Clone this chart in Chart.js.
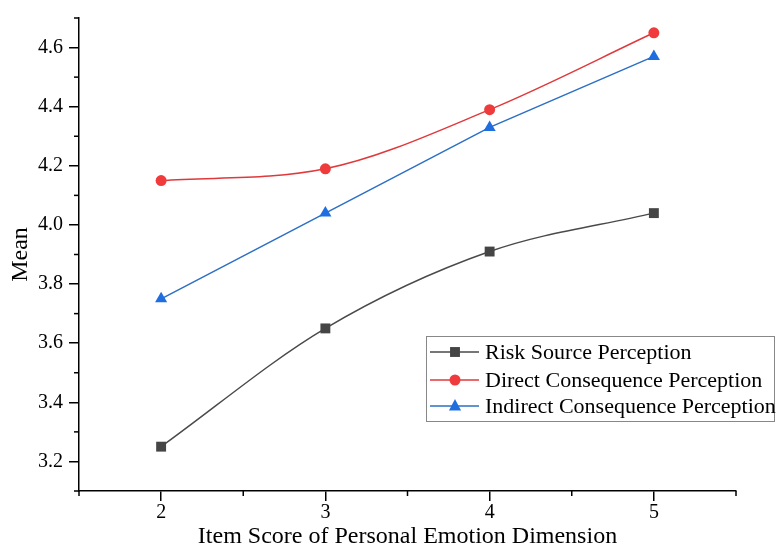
<!DOCTYPE html>
<html>
<head>
<meta charset="utf-8">
<script src="https://cdn.jsdelivr.net/npm/chart.js@4.4.0/dist/chart.umd.min.js"></script>
<style>
  html, body { margin: 0; padding: 0; background: #fff; }
  #wrap { width: 776px; height: 547px; }
</style>
</head>
<body>
<div id="wrap"><canvas id="mycanvas"></canvas></div>
<script>
const scores = [2, 3, 4, 5];
const riskSource = [3.25, 3.65, 3.91, 4.04];
const directConsequence = [4.15, 4.19, 4.39, 4.65];
const indirectConsequence = [3.75, 4.04, 4.33, 4.57];
const seriesNames = ['Risk Source Perception', 'Direct Consequence Perception', 'Indirect Consequence Perception'];

const serif = '"Liberation Serif", "Times New Roman", serif';

function toPoints(vals) {
  return scores.map(function (s, i) { return { x: s, y: vals[i] }; });
}

function isMajor(scaleId, v) {
  if (scaleId === 'x') return Number.isInteger(Math.round(v * 10) / 10);
  return Math.round(v * 10) % 2 === 0;
}

// short minor ticks (chart.js draws all ticks one length)
const minorTicks = {
  id: 'minorTicks',
  afterDraw: function (chart) {
    const ctx = chart.ctx;
    ctx.save();
    ctx.strokeStyle = '#000';
    ctx.lineWidth = 1.5;
    const xs = chart.scales.x, ys = chart.scales.y;
    xs.ticks.forEach(function (t) {
      if (isMajor('x', t.value)) return;
      const px = xs.getPixelForValue(t.value);
      ctx.beginPath();
      ctx.moveTo(px, xs.top);
      ctx.lineTo(px, xs.top + 5);
      ctx.stroke();
    });
    ys.ticks.forEach(function (t) {
      if (isMajor('y', t.value)) return;
      const py = ys.getPixelForValue(t.value);
      ctx.beginPath();
      ctx.moveTo(ys.right, py);
      ctx.lineTo(ys.right - 5, py);
      ctx.stroke();
    });
    ctx.restore();
  }
};

function drawMarker(ctx, style, r, x, y) {
  if (style === 'rect') {
    const s = Math.SQRT1_2 * r;
    ctx.rect(x - s, y - s, 2 * s, 2 * s);
  } else if (style === 'triangle') {
    ctx.moveTo(x, y - r);
    ctx.lineTo(x + r * 0.866, y + r * 0.5 + 1);
    ctx.lineTo(x - r * 0.866, y + r * 0.5 + 1);
    ctx.closePath();
  } else {
    ctx.arc(x, y, r, 0, Math.PI * 2);
  }
}

// legend box drawn inside the plot, lower right
const boxLegend = {
  id: 'boxLegend',
  afterDraw: function (chart) {
    const ctx = chart.ctx;
    const left = 426, top = 336, w = 349, h = 86;
    ctx.save();
    ctx.fillStyle = '#fff';
    ctx.fillRect(left, top, w, h);
    ctx.strokeStyle = '#888';
    ctx.lineWidth = 1;
    ctx.strokeRect(left + 0.5, top + 0.5, w - 1, h - 1);
    const rows = [352, 380, 406];
    chart.data.datasets.forEach(function (ds, i) {
      const y = rows[i];
      ctx.strokeStyle = ds.borderColor;
      ctx.lineWidth = 1.5;
      ctx.beginPath();
      ctx.moveTo(430, y);
      ctx.lineTo(479, y);
      ctx.stroke();
      ctx.fillStyle = ds.pointBackgroundColor;
      ctx.beginPath();
      drawMarker(ctx, ds.pointStyle, ds.pointRadius, 455, y);
      ctx.fill();
      ctx.fillStyle = '#000';
      ctx.font = '22px ' + serif;
      ctx.textBaseline = 'middle';
      ctx.fillText(ds.label, 485, y + 1);
    });
    ctx.restore();
  }
};

const chartdata = {
  datasets: [
    {
      label: seriesNames[0],
      data: toPoints(riskSource),
      borderColor: '#4a4a4a',
      backgroundColor: '#454545',
      pointBackgroundColor: '#454545',
      pointBorderWidth: 0,
      pointStyle: 'rect',
      pointRadius: 7,
      borderWidth: 1.5,
      cubicInterpolationMode: 'monotone'
    },
    {
      label: seriesNames[1],
      data: toPoints(directConsequence),
      borderColor: '#e0393c',
      backgroundColor: '#ef3b3b',
      pointBackgroundColor: '#ef3b3b',
      pointBorderWidth: 0,
      pointStyle: 'circle',
      pointRadius: 5.5,
      borderWidth: 1.5,
      cubicInterpolationMode: 'monotone'
    },
    {
      label: seriesNames[2],
      data: toPoints(indirectConsequence),
      borderColor: '#2c6fc4',
      backgroundColor: '#1f6ee0',
      pointBackgroundColor: '#1f6ee0',
      pointBorderWidth: 0,
      pointStyle: 'triangle',
      pointRadius: 7,
      borderWidth: 1.5,
      tension: 0
    }
  ]
};

new Chart(document.getElementById('mycanvas'), {
  type: 'line',
  data: chartdata,
  plugins: [minorTicks, boxLegend],
  options: {
    responsive: true,
    maintainAspectRatio: false,
    animation: false,
    layout: { padding: { top: 13, right: 40, left: 0, bottom: 0 } },
    plugins: { legend: { display: false }, tooltip: { enabled: false } },
    scales: {
      x: {
        type: 'linear',
        min: 1.5,
        max: 5.5,
        ticks: {
          stepSize: 0.5,
          color: '#000',
          font: { family: serif, size: 20 },
          padding: 0,
          maxRotation: 0,
          callback: function (v) { return isMajor('x', v) ? String(Math.round(v)) : ''; }
        },
        grid: {
          drawOnChartArea: false, drawTicks: true, tickLength: 10, lineWidth: 1.5,
          color: function (c) { return c.tick && isMajor('x', c.tick.value) ? '#000' : 'rgba(0,0,0,0)'; }
        },
        border: { color: '#000', width: 1.5 },
        title: {
          display: true,
          text: 'Item Score of Personal Emotion Dimension',
          color: '#000',
          font: { family: serif, size: 24, lineHeight: 1 },
          padding: { top: 0, bottom: -2 }
        },
        afterFit: function (scale) { scale.height = 56; }
      },
      y: {
        min: 3.1,
        max: 4.7,
        ticks: {
          stepSize: 0.1,
          color: '#000',
          font: { family: serif, size: 20 },
          padding: 6,
          callback: function (v) {
            const t = Math.round(v * 10);
            return t % 2 === 0 ? (t / 10).toFixed(1) : '';
          }
        },
        grid: {
          drawOnChartArea: false, drawTicks: true, tickLength: 10, lineWidth: 1.5,
          color: function (c) { return c.tick && isMajor('y', c.tick.value) ? '#000' : 'rgba(0,0,0,0)'; }
        },
        border: { color: '#000', width: 1.5 },
        title: {
          display: true,
          text: 'Mean',
          color: '#000',
          font: { family: serif, size: 24, lineHeight: 1 },
          padding: { top: 9, bottom: 0 }
        },
        afterFit: function (scale) { scale.width = 79; }
      }
    }
  }
});
</script>
</body>
</html>
